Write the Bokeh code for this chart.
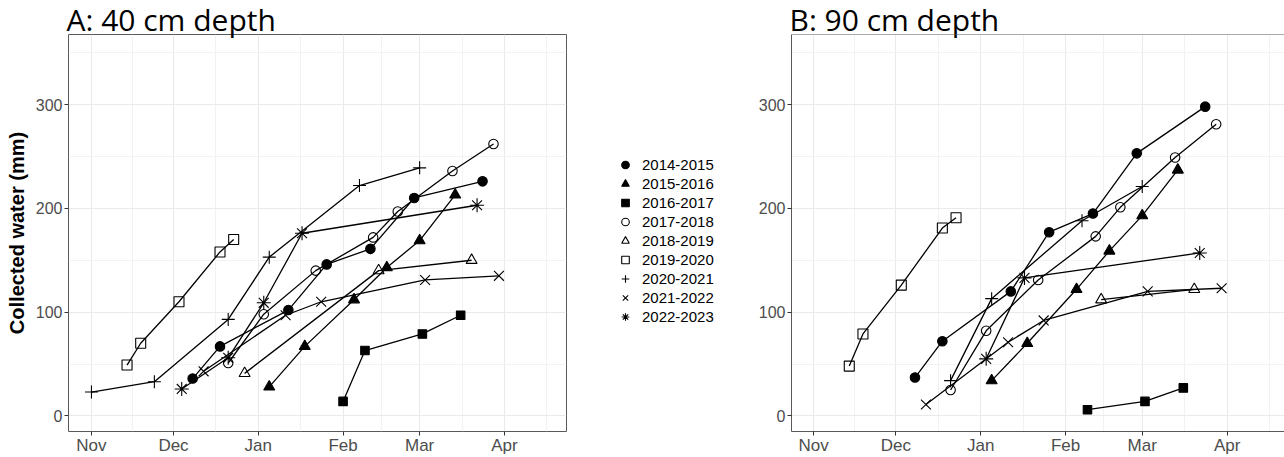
import datetime as dt
from bokeh.plotting import figure
from bokeh.models import FixedTicker, Range1d, Label, Legend, LegendItem, Span, Title
from bokeh.layouts import row
from bokeh.embed import file_html
from bokeh.resources import INLINE

# ---------------- data ----------------
season_names = ["2014-2015", "2015-2016", "2016-2017", "2017-2018", "2018-2019",
                "2019-2020", "2020-2021", "2021-2022", "2022-2023"]

dates_1415 = ["12-08", "12-18", "01-12", "01-26", "02-11", "02-27", "03-24"]
cm40_1415 = [36, 67, 102, 146, 161, 210, 226]
cm90_1415 = [37, 72, 120, 177, 195, 253, 298]

dates_1516 = ["01-05", "01-18", "02-05", "02-17", "03-01", "03-14"]
cm40_1516 = [28, 67, 112, 143, 169, 213]
cm90_1516 = [34, 70, 122, 159, 193, 237]

dates_1617 = ["02-01", "02-09", "03-02", "03-16"]
cm40_1617 = [14, 63, 79, 97]
cm90_1617 = [None, 6, 14, 27]

dates_1718 = ["12-21", "01-03", "01-22", "02-12", "02-21", "03-13", "03-28"]
cm40_1718 = [51, 98, 140, 172, 197, 236, 262]
cm90_1718 = [25, 82, 131, 173, 201, 249, 281]

dates_1819 = ["12-27", "02-14", "03-20"]
cm40_1819 = [41, 140, 150]
cm90_1819 = [None, 112, 122]

dates_1920 = ["11-14", "11-19", "12-03", "12-18", "12-23"]
cm40_1920 = [49, 70, 110, 158, 170]
cm90_1920 = [48, 79, 126, 181, 191]

dates_2021 = ["11-01", "11-24", "12-21", "01-05", "02-07", "03-01"]
cm40_2021 = [23, 33, 93, 153, 222, 239]
cm90_2021 = [None, None, 34, 113, 188, 221]

dates_2122 = ["12-12", "01-11", "01-24", "03-03", "03-30"]
cm40_2122 = [43, 97, 110, 131, 135]
cm90_2122 = [11, 71, 92, 120, 123]

dates_2223 = ["12-04", "12-21", "01-03", "01-17", "03-22"]
cm40_2223 = [26, 56, 109, 176, 203]
cm90_2223 = [None, None, 55, 133, 157]

month_labels = ["Nov", "Dec", "Jan", "Feb", "Mar", "Apr"]
month_starts = ["11-01", "12-01", "01-01", "02-01", "03-01", "04-01"]
y_ticks = [0, 100, 200, 300]
y_minor = [50, 150, 250, 350]
panel_titles = ["A: 40 cm depth", "B: 90 cm depth"]
y_title = "Collected water (mm)"

season_dates = [dates_1415, dates_1516, dates_1617, dates_1718, dates_1819,
                dates_1920, dates_2021, dates_2122, dates_2223]
season_40 = [cm40_1415, cm40_1516, cm40_1617, cm40_1718, cm40_1819,
             cm40_1920, cm40_2021, cm40_2122, cm40_2223]
season_90 = [cm90_1415, cm90_1516, cm90_1617, cm90_1718, cm90_1819,
             cm90_1920, cm90_2021, cm90_2122, cm90_2223]

# ---------------- styles ----------------
markers = ["circle", "triangle", "square", "circle", "triangle", "square",
           "cross", "x", "asterisk"]
fills = ["black", "black", "black", None, None, None, None, None, None]
sizes = [9.5, 11, 8.5, 9.5, 11, 10, 13, 14, 14]

BORDER = "#595959"
TICKC = "#333333"
LABC = "#4D4D4D"
FONT = "Liberation Sans"
H = 457


def day_of(md):
    m, d = map(int, md.split("-"))
    y = 2001 if m >= 9 else 2002
    return (dt.date(y, m, d) - dt.date(2001, 11, 1)).days


tick_days = [day_of(m) for m in month_starts]
minor_days = [(a + b) / 2 for a, b in zip(tick_days[:-1], tick_days[1:])]
minor_days.append(tick_days[-1] + (tick_days[-1] - tick_days[-2]) / 2)

Y0, Y1 = -15.0, 367.5


def add_title(p, text):
    try:
        t = Title(text=text, text_font="Open Sans", text_font_size="30px",
                  text_font_style="normal", text_color="black", align="left",
                  vertical_align="bottom", offset=-2, standoff=-10)
        p.add_layout(t, "above")
    except Exception:
        p.add_layout(Label(x=-2, y=400, x_units="screen", y_units="screen", text=text,
                           text_font="Open Sans", text_font_size="30px",
                           text_color="black", text_baseline="alphabetic"))


def make_panel(values, title, width, bl, br, x0, x1, ylabel=None, box=True):
    p = figure(width=width, height=H, x_range=Range1d(x0, x1), y_range=Range1d(Y0, Y1),
               toolbar_location=None, output_backend="svg",
               min_border_left=bl, min_border_right=br, min_border_top=34, min_border_bottom=23,
               background_fill_color="white", border_fill_color="white")
    xt = FixedTicker(ticks=tick_days, minor_ticks=minor_days)
    yt = FixedTicker(ticks=y_ticks, minor_ticks=y_minor)
    p.xaxis.ticker = xt
    p.yaxis.ticker = yt
    p.xgrid.ticker = xt
    p.ygrid.ticker = yt
    p.xaxis.major_label_overrides = {d: lab for d, lab in zip(tick_days, month_labels)}
    for ax in (p.xaxis, p.yaxis):
        ax.minor_tick_line_color = None
        ax.major_tick_line_color = TICKC
        ax.major_tick_out = 4
        ax.major_tick_in = 0
        ax.major_label_text_font = FONT
        ax.major_label_text_color = LABC
    p.xaxis.major_label_text_font_size = "17px"
    p.yaxis.major_label_text_font_size = "16px"
    p.xaxis.major_label_standoff = 0
    p.yaxis.major_label_standoff = 2
    for g in (p.xgrid, p.ygrid):
        g.grid_line_color = "#EAEAEA"
        g.grid_line_width = 1.1
        g.minor_grid_line_color = "#F2F2F2"
        g.minor_grid_line_width = 1
    if box:
        p.outline_line_color = BORDER
        p.outline_line_width = 1
        p.axis.axis_line_color = None
    else:
        p.outline_line_color = None
        p.axis.axis_line_color = BORDER
        p.add_layout(Span(location=Y1, dimension="width", line_color=BORDER, line_width=1))
    if ylabel:
        p.yaxis.axis_label = ylabel
        p.yaxis.axis_label_text_font = FONT
        p.yaxis.axis_label_text_font_style = "bold"
        p.yaxis.axis_label_text_font_size = "20px"
        p.yaxis.axis_label_text_color = "black"
        p.yaxis.axis_label_standoff = 5

    for dates, vals, mk, fc, sz in zip(season_dates, values, markers, fills, sizes):
        xs = [day_of(d) for d, v in zip(dates, vals) if v is not None]
        ys = [v for v in vals if v is not None]
        p.line(xs, ys, line_color="black", line_width=1.3)
        p.scatter(xs, ys, marker=mk, size=sz, fill_color=fc, line_color="black",
                  line_width=1.1)

    add_title(p, title)
    return p


pA = make_panel(season_40, panel_titles[0], 570, 68, 4, -8.4, 173.7, ylabel=y_title, box=True)
pB = make_panel(season_90, panel_titles[1], 544, 51, 0, -8.1, 171.96, box=False)

# legend figure (legend glyphs only; the NaN placeholder draws nothing in the plot)
leg = figure(width=170, height=H, x_range=Range1d(0, 1), y_range=Range1d(0, 1),
             x_axis_location=None, y_axis_location=None, toolbar_location=None,
             output_backend="svg", min_border=0, outline_line_color=None)
leg.grid.visible = False
items = []
for name, mk, fc, sz in zip(season_names, markers, fills, sizes):
    r = leg.scatter(x=[float("nan")], y=[float("nan")], marker=mk, size=sz, fill_color=fc,
                    line_color="black", line_width=1.1)
    items.append(LegendItem(label=name, renderers=[r]))
legend = Legend(items=items, location=(45, 105), glyph_width=20, glyph_height=19,
                label_height=19, spacing=0, padding=0, margin=0, label_standoff=7,
                border_line_color=None, background_fill_alpha=0,
                label_text_font=FONT, label_text_font_size="15px",
                label_text_color="black")
leg.add_layout(legend)

layout = row(pA, leg, pB)
open("out.html", "w").write(file_html(layout, INLINE))
